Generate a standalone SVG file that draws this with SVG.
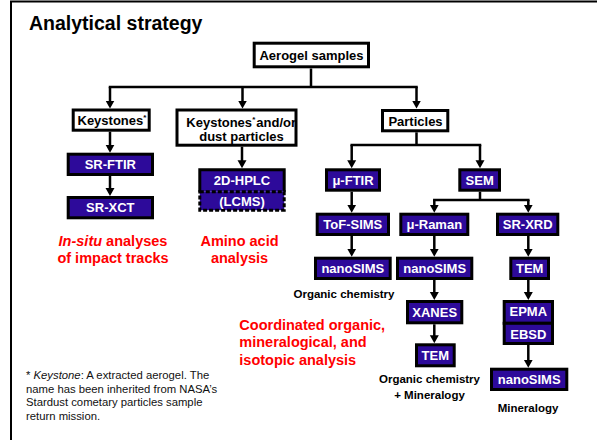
<svg xmlns="http://www.w3.org/2000/svg" width="597" height="440" viewBox="0 0 597 440">
<defs>
<style>
text{font-family:"Liberation Sans",Arial,sans-serif}
.wb{fill:#fff;stroke:#000;stroke-width:3}
.bb{fill:#2d0a9a;stroke:#000;stroke-width:3}
.lb{font-size:13px;font-weight:bold;fill:#000;text-anchor:middle}
.ls{font-size:13px;font-weight:bold;fill:#000}
.sup{font-size:8px;font-weight:bold;fill:#000}
.lw{font-size:13px;font-weight:bold;fill:#fff;text-anchor:middle}
.red{font-size:14.5px;font-weight:bold;fill:#ff0000}
.cap{font-size:11.5px;font-weight:bold;fill:#000;text-anchor:middle}
.fn{font-size:11.3px;fill:#111}
.c{stroke:#000;stroke-width:2.5;fill:none}
.a{marker-end:url(#ah)}
</style>
<marker id="ah" viewBox="0 -5 10 10" refX="5" refY="0" markerWidth="10" markerHeight="10" markerUnits="userSpaceOnUse" orient="auto">
<path d="M0,-4.5 L8,0 L0,4.5 z" fill="#000"/>
</marker>
</defs>
<rect width="597" height="440" fill="#fff"/>
<path d="M11,441 V1.5 H598" fill="none" stroke="#000" stroke-width="2"/>
<text x="29" y="30" font-size="19.5" font-weight="bold" fill="#000">Analytical strategy</text>

<g id="connectors">
<path class="c" d="M311,68.5 V87"/>
<path class="c" d="M110,87 H416.5" stroke-linecap="square"/>
<path class="c a" d="M110,87 V105.5"/>
<path class="c a" d="M242.5,87 V105.5"/>
<path class="c a" d="M416.5,87 V105.5"/>
<path class="c a" d="M110,131.7 V149.7"/>
<path class="c a" d="M110,176 V193"/>
<path class="c a" d="M242,146.7 V165.3"/>
<path class="c" d="M416.5,132.3 V145"/>
<path class="c" d="M351.7,145 H480" stroke-linecap="square"/>
<path class="c a" d="M351.7,145 V165.3"/>
<path class="c a" d="M480,145 V165.3"/>
<path class="c a" d="M351.7,191.7 V209.7"/>
<path class="c" d="M480,191.7 V200"/>
<path class="c" d="M434.3,200 H528.3" stroke-linecap="square"/>
<path class="c a" d="M434.3,200 V209.7"/>
<path class="c a" d="M528.3,200 V209.7"/>
<path class="c a" d="M351.7,236 V253.7"/>
<path class="c a" d="M434.3,236 V253.7"/>
<path class="c a" d="M528.3,236 V253.7"/>
<path class="c a" d="M434.3,280 V297"/>
<path class="c a" d="M528.3,280 V297"/>
<path class="c a" d="M434.3,324.3 V340.3"/>
<path class="c a" d="M528.3,345 V364.7"/>
</g>

<g id="aerogel"><rect class="wb" x="254.2" y="43.2" width="114.3" height="23.6"/><text class="lb" x="311.5" y="60">Aerogel samples</text></g>
<g id="keystones"><rect class="wb" x="73.2" y="110" width="76" height="20.2"/><text class="ls" x="77.5" y="125">Keystones</text><text class="sup" x="143.3" y="120">*</text></g>
<g id="keystones-dust"><rect class="wb" x="177" y="110" width="119" height="35.2"/><text class="ls" x="186.3" y="126.5">Keystones</text><text class="sup" x="252.2" y="121.5">*</text><text class="ls" x="256.3" y="126.5">and/or</text><text class="lb" x="241.5" y="140.5">dust particles</text></g>
<g id="particles"><rect class="wb" x="382.5" y="110.5" width="65.3" height="20.3"/><text class="lb" x="415.5" y="125.5">Particles</text></g>

<g id="sr-ftir"><rect class="bb" x="68.2" y="154.2" width="84.3" height="20.3"/><text class="lw" x="110.3" y="169">SR-FTIR</text></g>
<g id="sr-xct"><rect class="bb" x="68.2" y="197.5" width="84.3" height="20.3"/><text class="lw" x="110.3" y="212.3">SR-XCT</text></g>
<g id="hplc"><rect x="199.8" y="169.8" width="84.4" height="21.9" fill="#2d0a9a"/><path d="M199.8,191.7 V169.8 H284.2 V191.7" fill="none" stroke="#000" stroke-width="3"/><text class="lw" x="242" y="184.7">2D-HPLC</text></g>
<g id="lcms"><rect x="199.8" y="191.7" width="84.4" height="18.5" fill="#2d0a9a" stroke="#000" stroke-width="3" stroke-dasharray="4 2"/><text class="lw" x="242" y="206.3">(LCMS)</text></g>

<g id="mu-ftir"><rect class="bb" x="326.5" y="169.8" width="53" height="20.4"/><text class="lw" x="353" y="184.7">μ-FTIR</text></g>
<g id="sem"><rect class="bb" x="459.8" y="169.8" width="39.7" height="20.4"/><text class="lw" x="479.7" y="184.7">SEM</text></g>
<g id="tof-sims"><rect class="bb" x="317.2" y="214.2" width="71.3" height="20.3"/><text class="lw" x="352.8" y="229">ToF-SIMS</text></g>
<g id="mu-raman"><rect class="bb" x="400.8" y="214.2" width="67" height="20.3"/><text class="lw" x="434.3" y="229">μ-Raman</text></g>
<g id="sr-xrd"><rect class="bb" x="497.5" y="214.2" width="60.3" height="20.3"/><text class="lw" x="527.7" y="229">SR-XRD</text></g>
<g id="nanosims-1"><rect class="bb" x="315.5" y="258.2" width="74.7" height="20.3"/><text class="lw" x="352.8" y="273">nanoSIMS</text></g>
<g id="nanosims-2"><rect class="bb" x="397.5" y="258.2" width="74.3" height="20.3"/><text class="lw" x="434.7" y="273">nanoSIMS</text></g>
<g id="tem-1"><rect class="bb" x="510.8" y="258.2" width="37.7" height="20.3"/><text class="lw" x="529.7" y="273">TEM</text></g>
<g id="xanes"><rect class="bb" x="407.5" y="301.5" width="54.3" height="21.3"/><text class="lw" x="434.7" y="316.8">XANES</text></g>
<g id="tem-2"><rect class="bb" x="416.5" y="344.8" width="37.7" height="21"/><text class="lw" x="435.3" y="360">TEM</text></g>
<g id="epma"><rect class="bb" x="504.2" y="301.5" width="48.3" height="21.8"/><text class="lw" x="528.3" y="316.3">EPMA</text></g>
<g id="ebsd"><rect class="bb" x="504.2" y="323.3" width="48.3" height="20.2"/><text class="lw" x="528.3" y="338.8">EBSD</text></g>
<g id="nanosims-3"><rect class="bb" x="491.5" y="369.2" width="75.3" height="20.3"/><text class="lw" x="529.2" y="384">nanoSIMS</text></g>

<g id="labels">
<text class="red" x="113" y="246" text-anchor="middle"><tspan font-style="italic">In-situ</tspan> analyses</text>
<text class="red" x="113" y="263.3" text-anchor="middle">of impact tracks</text>
<text class="red" x="239.5" y="246" text-anchor="middle">Amino acid</text>
<text class="red" x="239.5" y="263.3" text-anchor="middle">analysis</text>
<text class="red" x="239.3" y="330">Coordinated organic,</text>
<text class="red" x="239.3" y="347.3">mineralogical, and</text>
<text class="red" x="239.3" y="365">isotopic analysis</text>
<text class="cap" x="344" y="298">Organic chemistry</text>
<text class="cap" x="429.5" y="383.3">Organic chemistry</text>
<text class="cap" x="429.5" y="399">+ Mineralogy</text>
<text class="cap" x="528" y="411.7">Mineralogy</text>
<text class="fn" x="26" y="379.3">* <tspan font-style="italic">Keystone</tspan>: A extracted aerogel. The</text>
<text class="fn" x="26" y="392.8">name has been inherited from NASA’s</text>
<text class="fn" x="26" y="406.3">Stardust cometary particles sample</text>
<text class="fn" x="26" y="419.8">return mission.</text>
</g>
</svg>
